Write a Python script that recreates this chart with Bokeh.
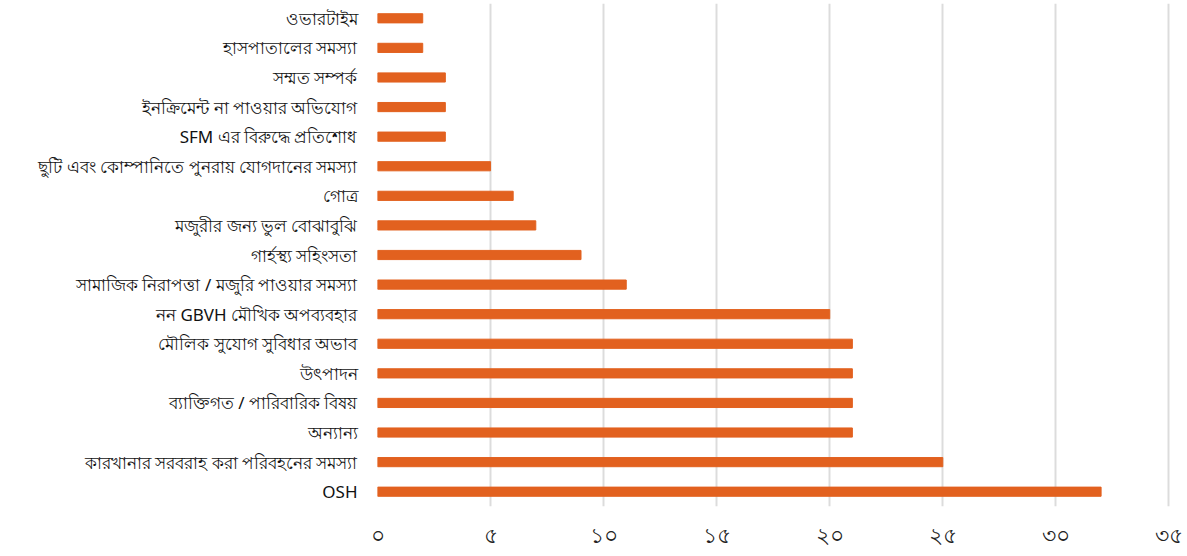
from bokeh.plotting import figure
from bokeh.models import FixedTicker, Range1d, FactorRange
from bokeh.embed import file_html
from bokeh.resources import INLINE

categories = [
    "ওভারটাইম",
    "হাসপাতালের সমস্যা",
    "সম্মত সম্পর্ক",
    "ইনক্রিমেন্ট না পাওয়ার অভিযোগ",
    "SFM এর বিরুদ্ধে প্রতিশোধ",
    "ছুটি এবং কোম্পানিতে পুনরায় যোগদানের সমস্যা",
    "গোত্র",
    "মজুরীর জন্য ভুল বোঝাবুঝি",
    "গার্হস্থ্য সহিংসতা",
    "সামাজিক নিরাপত্তা / মজুরি পাওয়ার সমস্যা",
    "নন GBVH মৌখিক অপব্যবহার",
    "মৌলিক সুযোগ সুবিধার অভাব",
    "উৎপাদন",
    "ব্যাক্তিগত / পারিবারিক বিষয়",
    "অন্যান্য",
    "কারখানার সরবরাহ করা পরিবহনের সমস্যা",
    "OSH",
]
values = [2, 2, 3, 3, 3, 5, 6, 7, 9, 11, 20, 21, 21, 21, 21, 25, 32]
tick_values = [0, 5, 10, 15, 20, 25, 30, 35]
tick_labels = ["০", "৫", "১০", "১৫", "২০", "২৫", "৩০", "৩৫"]

p = figure(
    width=1187, height=556,
    y_range=FactorRange(factors=list(reversed(categories))),
    x_range=Range1d(0, 35.6),
    output_backend="svg", toolbar_location=None,
    min_border_left=377, min_border_right=5, min_border_top=3, min_border_bottom=50,
)
p.outline_line_color = None
p.hbar(y=categories, right=values, left=0, height=0.31, color="#E2611F")

p.xaxis.ticker = FixedTicker(ticks=tick_values)
p.xaxis.major_label_overrides = {t: l for t, l in zip(tick_values, tick_labels)}
p.xaxis.axis_line_color = None
p.xaxis.major_tick_line_color = None
p.xaxis.minor_tick_line_color = None
p.xaxis.major_label_text_font_size = "22px"
p.xaxis.major_label_text_color = "#222222"
p.xaxis.major_label_standoff = 10

p.yaxis.axis_line_color = None
p.yaxis.major_tick_line_color = None
p.yaxis.minor_tick_line_color = None
p.yaxis.major_label_text_font_size = "17px"
p.yaxis.major_label_text_color = "#111111"
p.yaxis.major_label_text_font = "Noto Sans"
p.yaxis.major_label_standoff = 14

p.xgrid.ticker = FixedTicker(ticks=tick_values)
p.xgrid.grid_line_color = "#dcdcdc"
p.xgrid.grid_line_width = 2
p.ygrid.grid_line_color = None

open("out.html", "w").write(file_html(p, INLINE))
